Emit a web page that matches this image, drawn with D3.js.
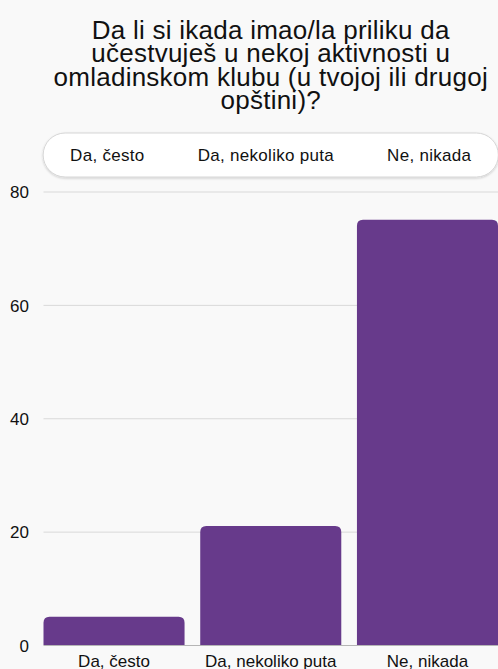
<!DOCTYPE html>
<html><head><meta charset="utf-8">
<script src="https://cdn.jsdelivr.net/npm/d3@7"></script>
<style>
html,body{margin:0;padding:0;background:#f9f9f9;}
svg{display:block;font-family:"Liberation Sans",Arial,Helvetica,sans-serif;}
</style></head>
<body>
<svg id="c" width="498" height="669"></svg>
<script>
const titleLines = ["Da li si ikada imao/la priliku da", "učestvuješ u nekoj aktivnosti u", "omladinskom klubu (u tvojoj ili drugoj", "opštini)?"];
const categories = ["Da, često", "Da, nekoliko puta", "Ne, nikada"];
const values = [5, 21, 75];
const yTicks = [0, 20, 40, 60, 80];
const legendLabels = ["Da, često", "Da, nekoliko puta", "Ne, nikada"];

(function () {
const W = 498, H = 669;
const pL = 43.5, pR = 498, pT = 191.5, pB = 645;
const svg = d3.select("#c");
svg.append("rect").attr("width", W).attr("height", H).attr("fill", "#f9f9f9");

const x = d3.scaleBand().domain(categories).range([pL, pR]).paddingInner(0.1).paddingOuter(0);
const y = d3.scaleLinear().domain([0, 80]).range([pB, pT]);
const cx = (pL + pR) / 2;

// title
const t = svg.append("text").attr("text-anchor", "middle").attr("font-size", 26)
  .attr("letter-spacing", 0.25).attr("fill", "#111");
titleLines.forEach((l, i) => t.append("tspan").attr("x", cx).attr("y", 39 + i * 23.4).text(l));

// grid
const yAxis = d3.axisLeft(y).tickValues(yTicks).tickSize(-(pR - pL)).tickPadding(14);
const ga = svg.append("g").attr("transform", `translate(${pL},0)`).call(yAxis);
ga.select(".domain").remove();
ga.selectAll(".tick line").attr("stroke", d => d === 0 ? "#b5b5b5" : "#d9d9d9").attr("stroke-width", 1);
ga.selectAll(".tick text").attr("font-size", 17).attr("fill", "#111")
  .attr("font-family", "'Liberation Sans',Arial,sans-serif").attr("x", -(pL - 29)).attr("dy", "0.36em");

// bars
const r = 6;
function barPath(x0, w, y0, y1) {
  return `M${x0},${y1}V${y0 + r}Q${x0},${y0} ${x0 + r},${y0}H${x0 + w - r}Q${x0 + w},${y0} ${x0 + w},${y0 + r}V${y1}Z`;
}
svg.append("g").selectAll("path").data(values).join("path")
  .attr("fill", "#673a8b")
  .attr("d", (d, i) => barPath(x(categories[i]), x.bandwidth(), y(d), y(0)));

// x labels
const xAxis = d3.axisBottom(x).tickSize(0).tickPadding(0);
const gx = svg.append("g").attr("transform", `translate(0,${pB})`).call(xAxis);
gx.select(".domain").remove();
gx.selectAll(".tick text").attr("font-size", 17).attr("fill", "#111")
  .attr("font-family", "'Liberation Sans',Arial,sans-serif").attr("y", 22).attr("dy", 0);

// legend pill
const defs = svg.append("defs");
const f = defs.append("filter").attr("id", "sh").attr("x", "-10%").attr("y", "-30%").attr("width", "120%").attr("height", "160%");
f.append("feDropShadow").attr("dx", 0).attr("dy", 1).attr("stdDeviation", 1.2).attr("flood-color", "#000").attr("flood-opacity", 0.18);
const lg = svg.append("g");
const pill = lg.append("rect").attr("fill", "#fff").attr("stroke", "#d6d6d6").attr("filter", "url(#sh)");
const items = lg.selectAll("text").data(legendLabels).join("text")
  .attr("font-size", 17).attr("letter-spacing", 0.3).attr("fill", "#111").attr("y", 160.7).text(d => d);
const widths = [];
items.each(function () { widths.push(this.getComputedTextLength()); });
const gap = 53, pad = 27;
const total = d3.sum(widths) + gap * (widths.length - 1);
let xs = cx - total / 2;
items.attr("x", (d, i) => { const v = xs; xs += widths[i] + gap; return v; });
pill.attr("x", cx - total / 2 - pad).attr("y", 133).attr("width", total + 2 * pad).attr("height", 44).attr("rx", 22).attr("ry", 22);
})();
</script>
</body></html>
